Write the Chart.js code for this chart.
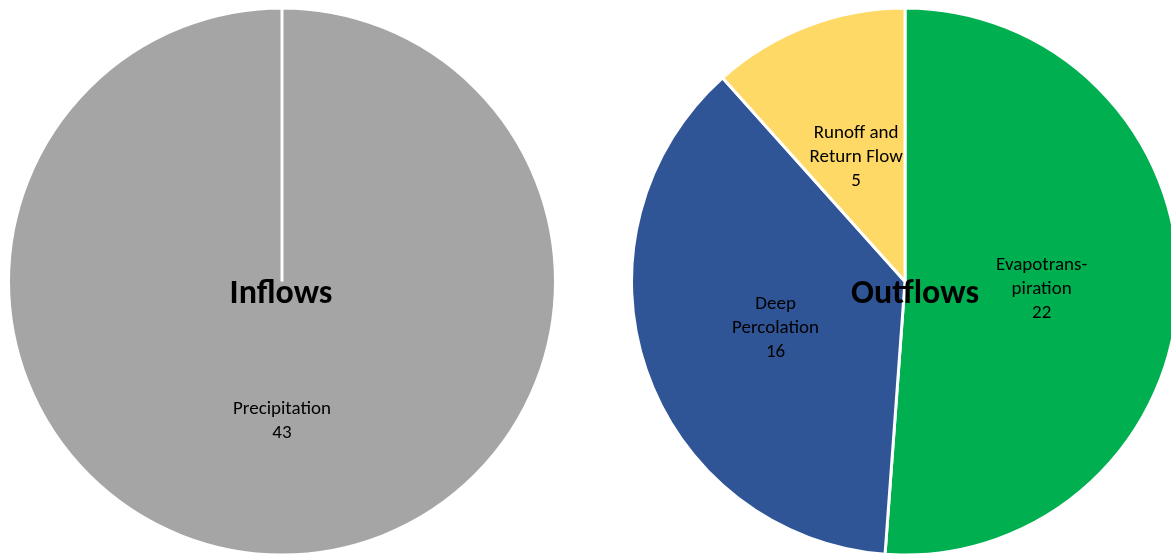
<!DOCTYPE html>
<html>
<head>
<meta charset="utf-8">
<script src="https://cdn.jsdelivr.net/npm/chart.js@4/dist/chart.umd.min.js"></script>
<style>
  html, body { margin: 0; padding: 0; background: #fff; overflow: hidden; width: 1171px; height: 555px; }
  .box { position: absolute; top: 0; height: 555px; }
  #inBox { left: 0; width: 564px; }
  #outBox { left: 625px; width: 560px; }
</style>
</head>
<body>
<div class="box" id="inBox"><canvas id="inflows"></canvas></div>
<div class="box" id="outBox"><canvas id="outflows"></canvas></div>
<script>
// Water balance components
const inflowLabels = [['Precipitation']];
const inflowValues = [43];
const inflowColors = ['#A5A5A5'];

const outflowLabels = [['Evapotrans-', 'piration'], ['Deep', 'Percolation'], ['Runoff and', 'Return Flow']];
const outflowValues = [22, 16, 5];
const outflowColors = ['#00B050', '#2F5597', '#FFD966'];

const FONT = 'Carlito, Lato, "Open Sans", sans-serif';

// Draws the category/value label inside each slice and a bold heading at the pie centre
const sliceLabels = {
  id: 'sliceLabels',
  afterDatasetsDraw(chart, args, opts) {
    const ctx = chart.ctx;
    const meta = chart.getDatasetMeta(0);
    const ds = chart.data.datasets[0];
    ctx.save();
    ctx.fillStyle = '#000';
    ctx.textAlign = 'center';
    ctx.textBaseline = 'middle';
    ctx.font = '19px ' + FONT;
    meta.data.forEach((arc, i) => {
      const p = arc.getProps(['x', 'y', 'startAngle', 'endAngle', 'outerRadius'], true);
      const mid = (p.startAngle + p.endAngle) / 2;
      const r = p.outerRadius * 0.5;
      const cx = p.x + Math.cos(mid) * r;
      const cy = p.y + Math.sin(mid) * r + 3;
      const lines = [].concat(chart.data.labels[i], String(ds.data[i]));
      const lh = 24;
      lines.forEach((t, k) => ctx.fillText(t, cx, cy + (k - (lines.length - 1) / 2) * lh));
    });
    const c = meta.data[0];
    ctx.font = 'bold 34px ' + FONT;
    ctx.fillText(opts.text, c.x + opts.dx, c.y + opts.dy);
    ctx.restore();
  }
};

function makePie(id, labels, values, colors, title, dx) {
  return new Chart(document.getElementById(id), {
    type: 'pie',
    data: {
      labels: labels,
      datasets: [{
        data: values,
        backgroundColor: colors,
        borderColor: '#FFFFFF',
        borderWidth: 3
      }]
    },
    options: {
      responsive: true,
      maintainAspectRatio: false,
      animation: false,
      events: [],
      radius: 273.5,
      layout: { padding: { top: 8 } },
      plugins: {
        legend: { display: false },
        tooltip: { enabled: false },
        sliceLabels: { text: title, dx: dx, dy: 13 }
      }
    },
    plugins: [sliceLabels]
  });
}

makePie('inflows', inflowLabels, inflowValues, inflowColors, 'Inflows', -1);
makePie('outflows', outflowLabels, outflowValues, outflowColors, 'Outflows', 10);
</script>
</body>
</html>
